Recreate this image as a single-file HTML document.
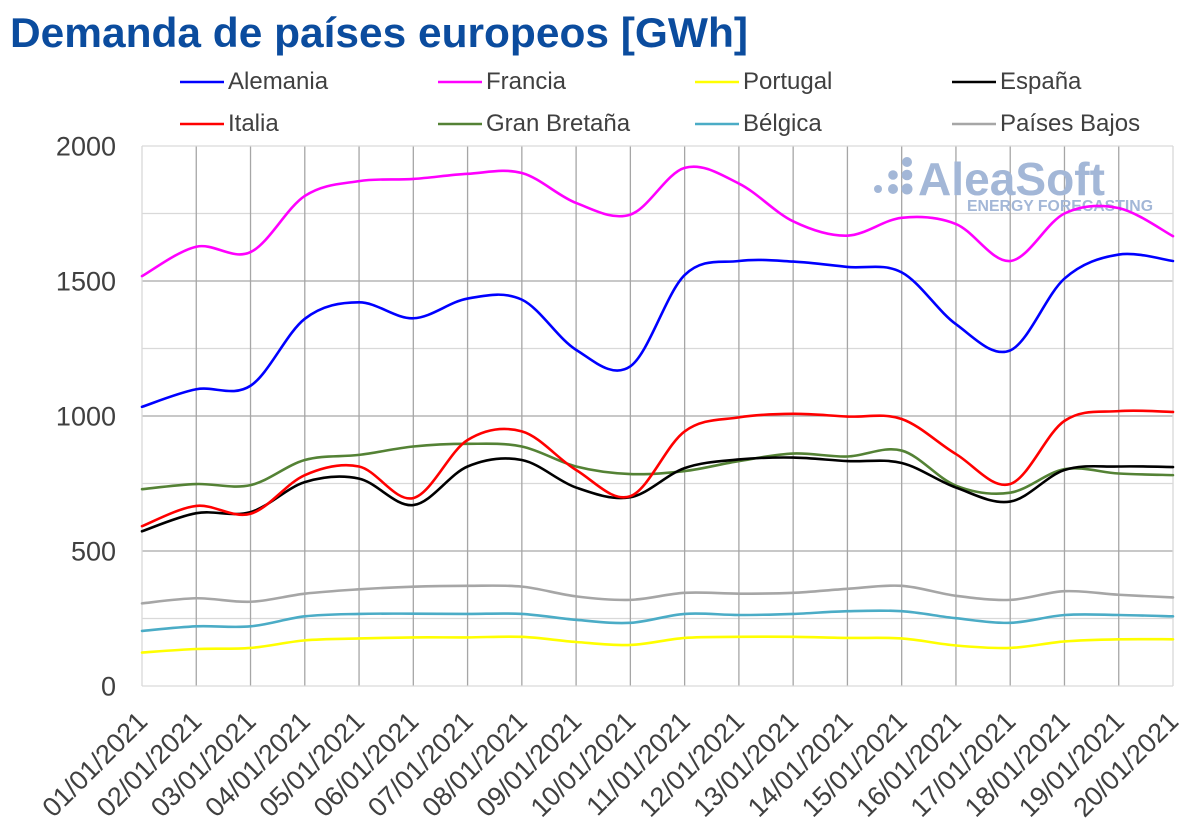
<!DOCTYPE html>
<html>
<head>
<meta charset="utf-8">
<style>
  html, body { margin: 0; padding: 0; background: #ffffff; }
  body { width: 1200px; height: 831px; overflow: hidden; }
  svg { display: block; }
  .t { font-family: "Liberation Sans", "DejaVu Sans", sans-serif; fill: #404040; }
</style>
</head>
<body>
<svg id="chart" width="1200" height="831" viewBox="0 0 1200 831" xmlns="http://www.w3.org/2000/svg">
  <rect x="0" y="0" width="1200" height="831" fill="#ffffff"/>

  <!-- Title -->
  <text x="10" y="47" font-family="Liberation Sans, DejaVu Sans, sans-serif" font-weight="bold" font-size="42" fill="#0b4c9e" textLength="738" lengthAdjust="spacingAndGlyphs">Demanda de países europeos [GWh]</text>

  <!-- Legend -->
  <g stroke-width="2.6" fill="none">
    <line x1="180" y1="82" x2="224" y2="82" stroke="#0000ff"/>
    <line x1="438" y1="82" x2="482" y2="82" stroke="#ff00ff"/>
    <line x1="695" y1="82" x2="739" y2="82" stroke="#ffff00"/>
    <line x1="952" y1="82" x2="996" y2="82" stroke="#000000"/>
    <line x1="180" y1="124" x2="224" y2="124" stroke="#ff0000"/>
    <line x1="438" y1="124" x2="482" y2="124" stroke="#548235"/>
    <line x1="695" y1="124" x2="739" y2="124" stroke="#4bacc6"/>
    <line x1="952" y1="124" x2="996" y2="124" stroke="#a6a6a6"/>
  </g>
  <g class="t" font-size="24">
    <text x="228" y="89">Alemania</text>
    <text x="486" y="89">Francia</text>
    <text x="743" y="89">Portugal</text>
    <text x="1000" y="89">España</text>
    <text x="228" y="131">Italia</text>
    <text x="486" y="131">Gran Bretaña</text>
    <text x="743" y="131">Bélgica</text>
    <text x="1000" y="131">Países Bajos</text>
  </g>

  <!-- Grid -->
  <g id="grid"></g>

  <!-- Watermark -->
  <g fill="#a3b7d7">
    <circle cx="907" cy="162" r="5"/>
    <circle cx="893" cy="175" r="4.8"/>
    <circle cx="907" cy="175" r="5.3"/>
    <circle cx="878" cy="189" r="4"/>
    <circle cx="893" cy="189" r="5"/>
    <circle cx="907" cy="189" r="5.5"/>
    <text x="918" y="195" font-family="Liberation Sans, DejaVu Sans, sans-serif" font-weight="bold" font-size="46" textLength="187" lengthAdjust="spacingAndGlyphs">AleaSoft</text>
    <text x="967" y="211" font-family="Liberation Sans, DejaVu Sans, sans-serif" font-weight="bold" font-size="15.5" textLength="186" lengthAdjust="spacingAndGlyphs">ENERGY FORECASTING</text>
  </g>

  <!-- Y axis labels -->
  <g class="t" font-size="27" text-anchor="end">
    <text x="116" y="155.5">2000</text>
    <text x="116" y="290.5">1500</text>
    <text x="116" y="425.5">1000</text>
    <text x="116" y="560.5">500</text>
    <text x="116" y="695.5">0</text>
  </g>

  <!-- Series -->
  <g id="series" fill="none" stroke-width="2.6" stroke-linejoin="round" stroke-linecap="round"></g>

  <!-- X axis labels -->
  <g class="t" font-size="27" text-anchor="end">
    <text transform="translate(149,723) rotate(-45)">01/01/2021</text>
    <text transform="translate(203.3,723) rotate(-45)">02/01/2021</text>
    <text transform="translate(257.5,723) rotate(-45)">03/01/2021</text>
    <text transform="translate(311.8,723) rotate(-45)">04/01/2021</text>
    <text transform="translate(366,723) rotate(-45)">05/01/2021</text>
    <text transform="translate(420.3,723) rotate(-45)">06/01/2021</text>
    <text transform="translate(474.6,723) rotate(-45)">07/01/2021</text>
    <text transform="translate(528.8,723) rotate(-45)">08/01/2021</text>
    <text transform="translate(583.1,723) rotate(-45)">09/01/2021</text>
    <text transform="translate(637.3,723) rotate(-45)">10/01/2021</text>
    <text transform="translate(691.6,723) rotate(-45)">11/01/2021</text>
    <text transform="translate(745.9,723) rotate(-45)">12/01/2021</text>
    <text transform="translate(800.1,723) rotate(-45)">13/01/2021</text>
    <text transform="translate(854.4,723) rotate(-45)">14/01/2021</text>
    <text transform="translate(908.6,723) rotate(-45)">15/01/2021</text>
    <text transform="translate(962.9,723) rotate(-45)">16/01/2021</text>
    <text transform="translate(1017.2,723) rotate(-45)">17/01/2021</text>
    <text transform="translate(1071.4,723) rotate(-45)">18/01/2021</text>
    <text transform="translate(1125.7,723) rotate(-45)">19/01/2021</text>
    <text transform="translate(1180,723) rotate(-45)">20/01/2021</text>
  </g>
</svg>

<script>
(function(){
  var NS = "http://www.w3.org/2000/svg";
  var X0 = 142, X1 = 1173, Y0 = 686, Ytop = 146;
  var dx = (X1 - X0) / 19;
  function xp(i){ return X0 + i * dx; }
  function yp(v){ return Y0 - v * (Y0 - Ytop) / 2000; }

  var grid = document.getElementById("grid");
  function line(x1,y1,x2,y2,c,w){
    var l = document.createElementNS(NS,"line");
    l.setAttribute("x1",x1); l.setAttribute("y1",y1);
    l.setAttribute("x2",x2); l.setAttribute("y2",y2);
    l.setAttribute("stroke",c); l.setAttribute("stroke-width",w);
    grid.appendChild(l);
  }
  // minor horizontal
  [250,750,1250,1750].forEach(function(v){ line(X0,yp(v),X1,yp(v),"#d9d9d9",1.3); });
  // major horizontal
  [500,1000,1500].forEach(function(v){ line(X0,yp(v),X1,yp(v),"#a6a6a6",1.3); });
  // vertical
  for (var i=1;i<19;i++){ line(xp(i),Ytop,xp(i),Y0,"#a6a6a6",1.3); }
  // border
  line(X0,Ytop,X1,Ytop,"#d9d9d9",1.3);
  line(X0,Y0,X1,Y0,"#d9d9d9",1.3);
  line(X0,Ytop,X0,Y0,"#d9d9d9",1.3);
  line(X1,Ytop,X1,Y0,"#d9d9d9",1.3);

  var data = [
    ["#0000ff",[1034,1099,1112,1360,1421,1362,1435,1431,1245,1184,1522,1574,1572,1552,1532,1340,1243,1509,1598,1574]],
    ["#ff00ff",[1518,1627,1607,1815,1870,1878,1897,1900,1789,1746,1919,1861,1721,1668,1734,1711,1574,1750,1770,1666]],
    ["#ffff00",[124,137,141,169,176,180,180,182,163,152,178,182,182,178,176,150,141,165,173,173]],
    ["#000000",[573,640,644,755,768,670,813,837,735,699,807,839,846,833,826,735,683,800,813,811]],
    ["#ff0000",[592,667,638,781,813,696,911,943,800,703,943,995,1008,998,989,859,748,982,1018,1015]],
    ["#548235",[729,748,744,837,856,887,897,887,813,785,796,833,861,850,872,742,716,803,787,781]],
    ["#4bacc6",[204,221,221,258,267,268,267,267,245,234,267,263,267,277,277,251,234,263,263,258]],
    ["#a6a6a6",[306,325,312,342,358,368,371,368,332,319,345,342,345,360,371,334,319,351,338,328]]
  ];
  var order = [7,6,2,5,3,4,0,1];
  var sg = document.getElementById("series");
  order.forEach(function(k){
    var c = data[k][0], vals = data[k][1];
    var P = vals.map(function(v,i){ return [xp(i), yp(v)]; });
    var n = P.length;
    var d = "M" + P[0][0].toFixed(2) + "," + P[0][1].toFixed(2);
    for (var i=0;i<n-1;i++){
      var p0 = P[Math.max(i-1,0)], p1 = P[i], p2 = P[i+1], p3 = P[Math.min(i+2,n-1)];
      var c1x = p1[0] + (p2[0]-p0[0])/6, c1y = p1[1] + (p2[1]-p0[1])/6;
      var c2x = p2[0] - (p3[0]-p1[0])/6, c2y = p2[1] - (p3[1]-p1[1])/6;
      d += " C" + c1x.toFixed(2)+","+c1y.toFixed(2)+" "+c2x.toFixed(2)+","+c2y.toFixed(2)+" "+p2[0].toFixed(2)+","+p2[1].toFixed(2);
    }
    var path = document.createElementNS(NS,"path");
    path.setAttribute("d",d);
    path.setAttribute("stroke",c);
    sg.appendChild(path);
  });
})();
</script>
</body>
</html>
